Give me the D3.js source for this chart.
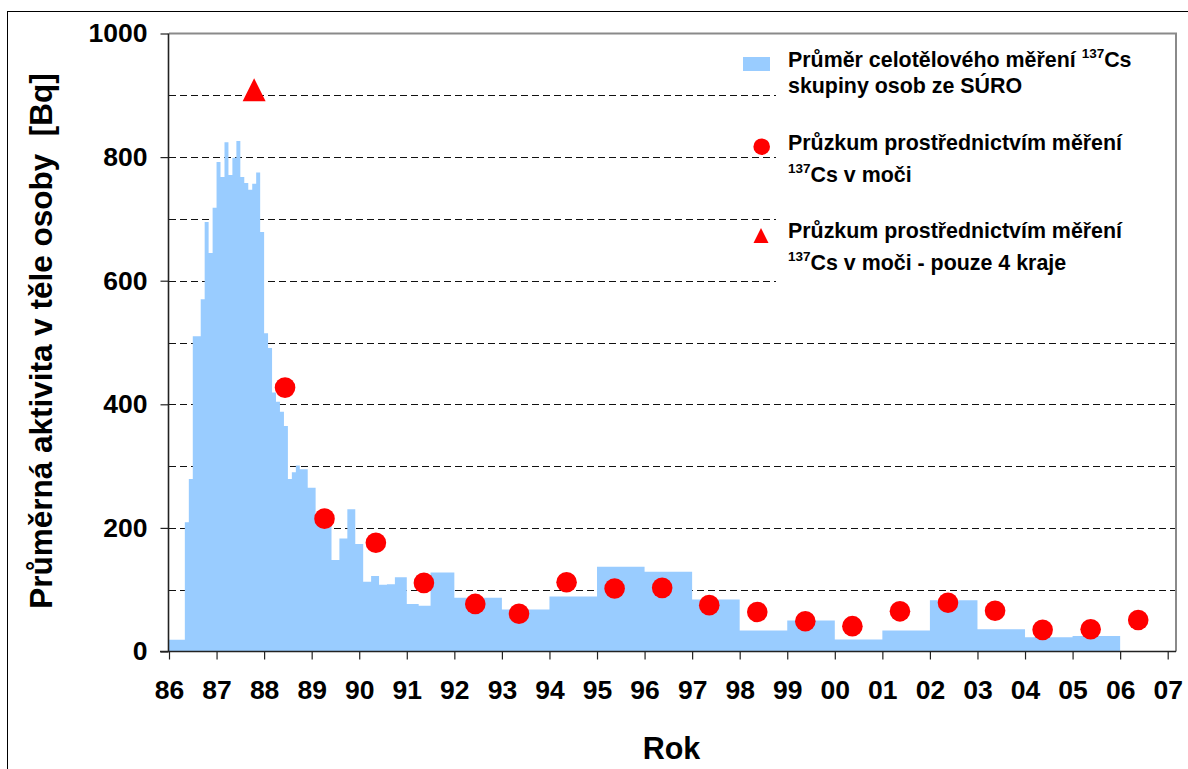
<!DOCTYPE html>
<html>
<head>
<meta charset="utf-8">
<script src="https://cdn.jsdelivr.net/npm/d3@7"></script>
<style>
body{margin:0;background:#fff;}
svg{display:block;}
text{font-family:"Liberation Sans",Arial,sans-serif;font-weight:bold;fill:#000;}
</style>
</head>
<body>
<svg id="chart" width="1188" height="769"></svg>
<script>
// ---- data ----
const barStart = [1986.0, 1986.333, 1986.417, 1986.5, 1986.667, 1986.75, 1986.833, 1986.917,
  1987.0, 1987.083, 1987.167, 1987.25, 1987.333, 1987.417, 1987.5, 1987.583, 1987.667, 1987.75, 1987.833, 1987.917,
  1988.0, 1988.083, 1988.167, 1988.25, 1988.333, 1988.417, 1988.5, 1988.583, 1988.667, 1988.75, 1988.917,
  1989.083, 1989.417, 1989.583, 1989.75, 1989.917, 1990.083, 1990.25, 1990.417, 1990.583, 1990.75,
  1991.0, 1991.25, 1991.5, 1992, 1993, 1994, 1995, 1996, 1997, 1998, 1999, 2000, 2001, 2002, 2003, 2004, 2005];
const barEndLast = 2006;
const barValue = [19, 209, 279, 510, 570, 695, 645, 718,
  792, 768, 824, 771, 799, 826, 768, 758, 747, 757, 775, 679,
  515, 491, 419, 404, 388, 365, 279, 290, 301, 295, 265,
  212, 148, 183, 230, 174, 113, 122, 108, 109, 120,
  77, 74, 128, 87, 68, 89, 137, 129, 84, 34, 50, 19.5, 34, 83, 36, 23, 25];

const dotYear = [1988.44, 1989.27, 1990.35, 1991.36, 1992.44, 1993.36, 1994.36, 1995.37, 1996.37, 1997.36,
  1998.37, 1999.38, 2000.37, 2001.37, 2002.38, 2003.37, 2004.37, 2005.38, 2006.38];
const dotValue = [427, 215, 176, 111, 77, 61, 112, 102, 103, 75, 64, 49, 41, 65, 79, 66, 35, 36, 51];

const triYear = [1987.79];
const triValue = [909];

const xTicks = d3.range(1986, 2008);
const yTicks = [0, 200, 400, 600, 800, 1000];
const gridValues = [100, 200, 300, 400, 500, 600, 700, 800, 900];

const yTitle = "Průměrná aktivita v těle osoby  [Bq]";
const xTitle = "Rok";

// ---- layout ----
const svg = d3.select("#chart");
const plotLeft = 169, plotRight = 1176, plotTop = 33.5, plotBottom = 651.5;
const x = d3.scaleLinear().domain([1986, 2007]).range([169, 1167.7]);
const y = d3.scaleLinear().domain([0, 1000]).range([plotBottom, plotTop]);
const FONT = '"Liberation Sans",Arial,sans-serif';

// outer border
svg.append("rect").attr("x", 7.5).attr("y", 11.5).attr("width", 1200).attr("height", 800)
  .attr("fill", "none").attr("stroke", "#000").attr("stroke-width", 1);

// gridlines
svg.append("g").selectAll("line").data(gridValues).join("line")
  .attr("x1", plotLeft).attr("x2", plotRight)
  .attr("y1", d => Math.round(y(d)) + 0.5).attr("y2", d => Math.round(y(d)) + 0.5)
  .attr("stroke", "#111").attr("stroke-width", 1).attr("stroke-dasharray", "7,4");

// bars as a step area
const barPts = barStart.map((s, i) => ({x: s, v: barValue[i]}));
barPts.push({x: barEndLast, v: barValue[barValue.length - 1]});
const area = d3.area().curve(d3.curveStepAfter)
  .x(d => x(d.x)).y0(y(0)).y1(d => y(d.v));
svg.append("path").datum(barPts).attr("d", area).attr("fill", "#99CCFF");

// legend background
svg.append("rect").attr("x", 776).attr("y", 35).attr("width", 399).attr("height", 255).attr("fill", "#fff");

// frame: top and right (gray)
svg.append("path")
  .attr("d", `M${plotLeft},${plotTop}H${plotRight}V${plotBottom}`)
  .attr("fill", "none").attr("stroke", "#8a8a8a").attr("stroke-width", 2);

// axes
const xAxis = d3.axisBottom(x).tickValues(xTicks)
  .tickFormat(d => String(d % 100).padStart(2, "0"))
  .tickSize(8).tickSizeOuter(0).tickPadding(21);
const gx = svg.append("g").attr("transform", `translate(0,${plotBottom})`).call(xAxis);
gx.select(".domain").remove();
gx.selectAll(".tick line").attr("stroke", "#222").attr("stroke-width", 1.2);
gx.selectAll(".tick text").attr("font-size", 26.5).attr("font-family", FONT).attr("font-weight", "bold");

const yAxis = d3.axisLeft(y).tickValues(yTicks).tickFormat(d3.format("d"))
  .tickSize(8).tickSizeOuter(0).tickPadding(13);
const gy = svg.append("g").attr("transform", `translate(${plotLeft - 0.5},0)`).call(yAxis);
gy.select(".domain").remove();
gy.selectAll(".tick line").attr("stroke", "#222").attr("stroke-width", 1.2);
gy.selectAll(".tick text").attr("font-size", 26.5).attr("font-family", FONT).attr("font-weight", "bold");

// axis lines
svg.append("line").attr("x1", plotLeft - 0.5).attr("x2", plotLeft - 0.5).attr("y1", plotTop).attr("y2", plotBottom)
  .attr("stroke", "#222").attr("stroke-width", 1.6);
svg.append("line").attr("x1", plotLeft - 9).attr("x2", plotRight).attr("y1", plotBottom).attr("y2", plotBottom)
  .attr("stroke", "#222").attr("stroke-width", 1.6);

// dots
svg.append("g").selectAll("circle").data(dotYear).join("circle")
  .attr("cx", d => x(d)).attr("cy", (d, i) => y(dotValue[i])).attr("r", 10.3).attr("fill", "#FF0000");

// triangle
svg.append("g").selectAll("path").data(triYear).join("path")
  .attr("d", (d, i) => {
    const cx = x(d), cy = y(triValue[i]);
    return `M${cx},${cy - 11.4}L${cx + 11.5},${cy + 11.4}L${cx - 11.5},${cy + 11.4}Z`;
  })
  .attr("fill", "#FF0000");

// axis titles
svg.append("text").attr("transform", "translate(52,341) rotate(-90)")
  .attr("text-anchor", "middle").attr("font-size", 31.5).style("white-space", "pre").text(yTitle);
svg.append("text").attr("x", 671.5).attr("y", 759).attr("text-anchor", "middle").attr("font-size", 30.5).text(xTitle);

// legend
const lg = svg.append("g");
lg.append("rect").attr("x", 743).attr("y", 57).attr("width", 27).attr("height", 14).attr("fill", "#99CCFF");
lg.append("circle").attr("cx", 761.7).attr("cy", 146.7).attr("r", 8.3).attr("fill", "#FF0000");
lg.append("path").attr("d", "M761,228L768.5,243L753.5,243Z").attr("fill", "#FF0000");

function legendLine(yPos, parts) {
  const t = lg.append("text").attr("x", 788).attr("y", yPos).attr("font-size", 21.4);
  parts.forEach(p => {
    if (p.sup) {
      t.append("tspan").attr("font-size", 13.5).attr("dy", -9).text(p.t);
    } else if (p.after) {
      t.append("tspan").attr("dy", 9).text(p.t);
    } else {
      t.append("tspan").text(p.t);
    }
  });
}
legendLine(66.7, [{t: "Průměr celotělového měření "}, {t: "137", sup: true}, {t: "Cs", after: true}]);
legendLine(93.3, [{t: "skupiny osob ze SÚRO"}]);
legendLine(150, [{t: "Průzkum prostřednictvím měření"}]);
legendLine(181.7, [{t: "137", sup: true}, {t: "Cs v moči", after: true}]);
legendLine(238.3, [{t: "Průzkum prostřednictvím měření"}]);
legendLine(270, [{t: "137", sup: true}, {t: "Cs v moči - pouze 4 kraje", after: true}]);
</script>
</body>
</html>
